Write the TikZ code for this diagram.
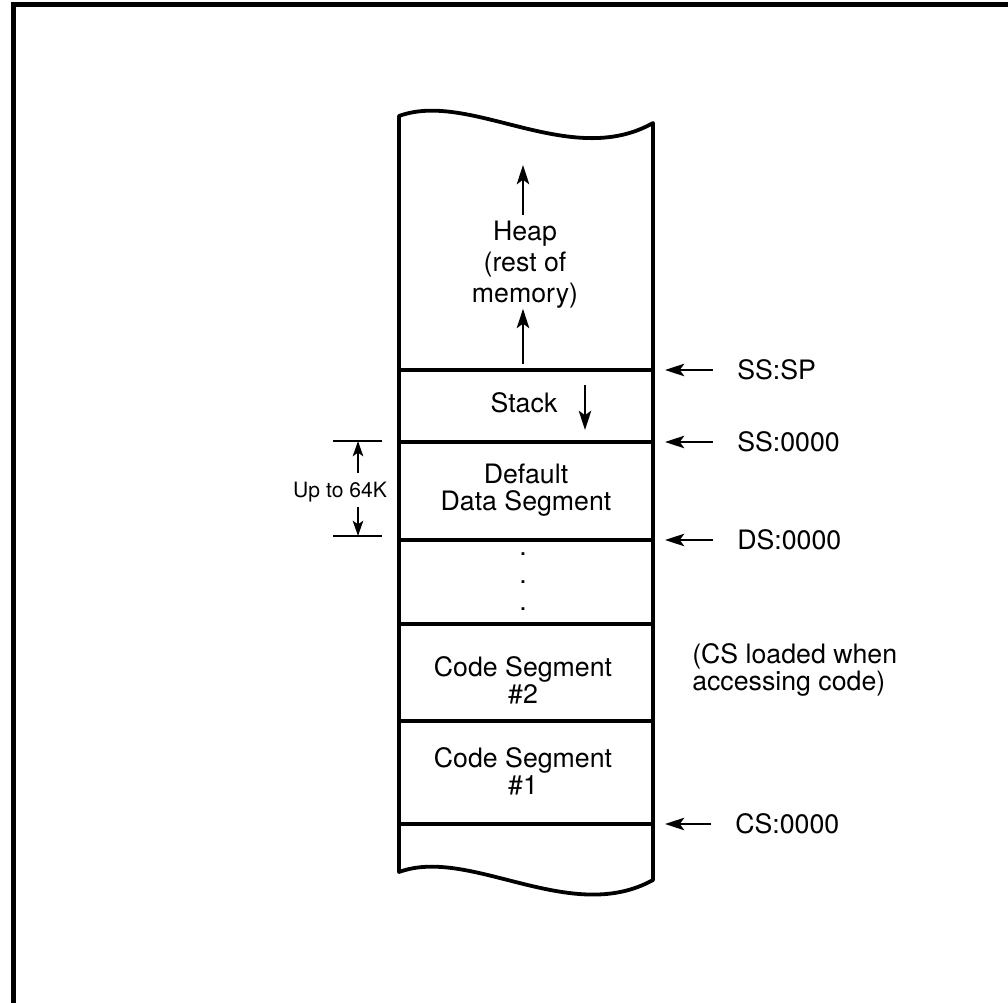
\documentclass[tikz,border=0pt]{standalone}
\usepackage{fontspec}
\setmainfont{TeX Gyre Heros}
\usetikzlibrary{arrows.meta, positioning}

\begin{document}
\begin{tikzpicture}[
  x=0.25mm, y=-0.25mm,
  font=\fontsize{19}{19.5}\selectfont,
  >={Stealth[length=4.8mm, width=3.1mm, inset=1.1mm]},
  ptr/.style={->, line width=1.8pt},
  dimptr/.style={-{Stealth[length=3.8mm, width=2.6mm, inset=0.9mm]}, line width=1.7pt},
  wall/.style={line width=2.7pt, line join=round},
  divider/.style={line width=2.2pt},
  seg/.style={align=center, inner sep=0pt},
  addr/.style={anchor=west, inner sep=0pt},
  tick/.style={line width=1.8pt},
]
\useasboundingbox (0,0) rectangle (1008,1003);
% outer frame, only top and left edges are in view
\draw[line width=3pt] (13.5,1003) -- (13.5,4.5) -- (1008,4.5);
% memory column with torn ends
\draw[wall] (399,116) .. controls (470,90) and (570,170) .. (653,123)
  -- (653,880) .. controls (570,926) and (470,846) .. (399,872) -- cycle;
% segment boundaries
\foreach \yy/\nm in {370/SP, 442/SS, 540/DS, 624/dots, 721/CStwo, 824/CS} {
  \draw[divider] (399,\yy) -- (653,\yy);
  \coordinate (d\nm) at (653,\yy);
}
% segments
\node[seg, font=\fontsize{19}{22}\selectfont] (heap) at (525,265) {Heap\\(rest of\\memory)};
\node[seg] (stack) at (524,403) {Stack};
\node[seg] (dseg) at (526,490) {Default\\Data Segment};
\node[seg] (dots) at (523,582) {.\\.\\.};
\node[seg] (cseg2) at (523,680) {Code Segment\\\#2};
\node[seg] (cseg1) at (523,771) {Code Segment\\\#1};
% growth directions
\coordinate (heaptop) at (523,165);
\coordinate (heapbase) at (523,364);
\draw[ptr, shorten <=1.5mm] (heaptop |- heap.north) -- (heaptop);
\draw[ptr] (heapbase) -- (heaptop |- heap.south);
\coordinate (stk1) at (585,385);
\coordinate (stk2) at (585,430);
\draw[ptr] (stk1) -- (stk2);
% segment register labels
\node[addr] (sssp) at (737,370) {SS:SP};
\node[addr] (ss0) at (737,442) {SS:0000};
\node[addr] (ds0) at (737,540) {DS:0000};
\node[addr, align=left] (csnote) at (692,670) {(CS loaded when\\accessing code)};
\node[addr] (cs0) at (735,824) {CS:0000};
\foreach \lbl/\dv in {sssp/dSP, ss0/dSS, ds0/dDS, cs0/dCS}
  \draw[ptr] ([xshift=-6mm]\lbl.west) -- ([xshift=3mm]\dv);
% 64K span of the data segment
\node[font=\fontsize{15}{18}\selectfont, inner sep=0pt] (span) at (340,492) {Up to 64K};
\coordinate (spantop) at (358,441);
\coordinate (spanbot) at (358,536);
\draw[tick] ([xshift=-6.25mm]spantop) -- ([xshift=6mm]spantop);
\draw[tick] ([xshift=-6.25mm]spanbot) -- ([xshift=6mm]spanbot);
\draw[dimptr, shorten <=2.25mm] (spantop |- span.north) -- (spantop);
\draw[dimptr, shorten <=1.25mm] (spanbot |- span.south) -- (spanbot);
\end{tikzpicture}
\end{document}
